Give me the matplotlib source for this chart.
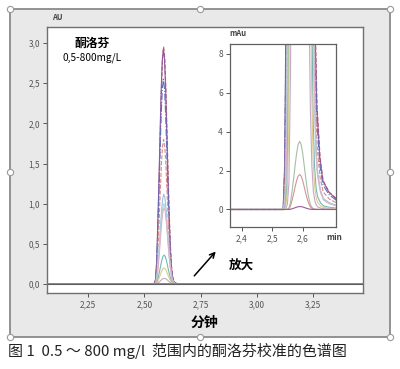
import matplotlib
matplotlib.use("Agg")
import matplotlib.pyplot as plt
import numpy as np
from matplotlib.patches import Rectangle
from matplotlib.lines import Line2D

plt.rcParams['font.family'] = ['Noto Sans CJK SC', 'DejaVu Sans']

# peak heights (AU) and retention times (min) of the calibration runs
heights_au = [2.95, 2.93, 2.55, 1.80, 1.12, 1.00, 0.95, 0.36, 0.20, 0.07, 0.0035, 0.0018, 0.00015]
retention = [2.586, 2.585, 2.585, 2.586, 2.587, 2.587, 2.588, 2.588, 2.588, 2.589, 2.589, 2.589, 2.590]

# normalised peak profile (offset from apex in min, relative height)
prof_offset = [-0.050, -0.045, -0.040, -0.035, -0.030, -0.025, -0.020,
               -0.015, -0.010, -0.005, 0.000, 0.005, 0.010, 0.015, 0.020, 0.025, 0.030,
               0.035, 0.040, 0.045, 0.050, 0.055, 0.060, 0.070, 0.080, 0.100,
               0.125, 0.150, 0.200, 0.300, 0.500]
prof_rel = [0.0, 0.0008, 0.004, 0.02, 0.10, 0.26, 0.44,
            0.64, 0.823, 0.952, 1.000, 0.952, 0.823, 0.644, 0.458, 0.295, 0.165,
            0.075, 0.032, 0.013, 0.006, 0.003, 0.0018, 0.0009, 0.0005, 0.0003,
            0.00018, 0.0001, 0.00004, 0.00001, 0.0]

main_xticks = [2.25, 2.50, 2.75, 3.00, 3.25]
main_xlabels = ['2,25', '2,50', '2,75', '3,00', '3,25']
main_yticks = [0.0, 0.5, 1.0, 1.5, 2.0, 2.5, 3.0]
main_ylabels = ['0,0', '0,5', '1,0', '1,5', '2,0', '2,5', '3,0']
ins_xticks = [2.4, 2.5, 2.6]
ins_xlabels = ['2,4', '2,5', '2,6']
ins_yticks = [0, 2, 4, 6, 8]

colors = ['#c8505a', '#8e5aa0', '#5b6fb8', '#d88a8a', '#98c4dc', '#a9d9e6', '#e3b3c6',
          '#78b8b4', '#d9cf8c', '#c6a8c8', '#a6bfa0', '#d4939c', '#9a5a9a']
styles = ['--', '-', '-.', '--', '-', '-', '-', '-', '-', '-', '-', '-', '-']

fig = plt.figure(figsize=(4.0, 3.69), dpi=100)
fig.patch.set_facecolor('white')

W, H = 400.0, 369.0
def fx(px):
    return px / W
def fy(py):
    return 1 - py / H

# grey frame of the embedded picture
fig.add_artist(Rectangle((fx(10), fy(337)), fx(390) - fx(10), fy(9) - fy(337),
                         transform=fig.transFigure, facecolor='#e9e9e9',
                         edgecolor='#8a8a8a', lw=1.3, zorder=0))
hx = [10, 200, 390, 10, 390, 10, 200, 390]
hy = [9, 9, 9, 172, 172, 337, 337, 337]
fig.add_artist(Line2D([fx(v) for v in hx], [fy(v) for v in hy], transform=fig.transFigure,
                      ls='none', marker='o', ms=4.5, mfc='white', mec='#9a9a9a', mew=0.8,
                      zorder=5))

def traces(ax, scale):
    for h, rt, c, s in zip(heights_au, retention, colors, styles):
        t = [2.0] + [rt + o for o in prof_offset] + [3.6]
        y = [0.0] + [h * r * scale for r in prof_rel] + [0.0]
        ax.plot(t, y, color=c, ls=s, lw=0.8)

# main chromatogram
ax = fig.add_axes([fx(47), fy(293), fx(363) - fx(47), fy(27) - fy(293)])
ax.set_facecolor('white')
traces(ax, 1.0)
ax.axhline(0, color='#606060', lw=0.8)
ax.set_xlim(2.067, 3.473)
ax.set_ylim(-0.1125, 3.2)
ax.set_xticks(main_xticks)
ax.set_xticklabels(main_xlabels)
ax.set_yticks(main_yticks)
ax.set_yticklabels(main_ylabels)
ax.tick_params(labelsize=6, colors='#555555', length=3, width=0.7, pad=2)
for sp in ax.spines.values():
    sp.set_color('#707070')
    sp.set_linewidth(1.0)
fig.text(fx(52), fy(18), 'AU', fontsize=5.5, fontweight='bold', color='#444444',
         ha='left', va='center')
fig.text(fx(92), fy(43), '酮洛芬', fontsize=8.5, fontweight='bold', ha='center', va='center')
fig.text(fx(92), fy(58), '0,5-800mg/L', fontsize=7.3, ha='center', va='center')
fig.text(fx(204), fy(323), '分钟', fontsize=10, fontweight='bold', ha='center', va='center')
fig.text(fx(241), fy(265), '放大', fontsize=9, fontweight='bold', ha='center', va='center')
ax.annotate('', xy=(2.826, 0.43), xytext=(2.714, 0.075),
            arrowprops=dict(arrowstyle='->', color='black', lw=1.1, mutation_scale=9))

# zoomed inset in mAU
ai = fig.add_axes([fx(230), fy(227), fx(336) - fx(230), fy(44) - fy(227)])
ai.set_facecolor('white')
traces(ai, 1000.0)
ai.set_xlim(2.361, 2.708)
ai.set_ylim(-0.9, 8.5)
ai.set_xticks(ins_xticks)
ai.set_xticklabels(ins_xlabels)
ai.set_yticks(ins_yticks)
ai.tick_params(labelsize=6, colors='#555555', length=3, width=0.7, pad=2)
for sp in ai.spines.values():
    sp.set_color('#606060')
    sp.set_linewidth(0.9)
fig.text(fx(238), fy(34), 'mAu', fontsize=5.5, fontweight='bold', color='#444444',
         ha='center', va='center')
fig.text(fx(334), fy(238), 'min', fontsize=6, fontweight='bold', color='#444444',
         ha='center', va='center')

fig.text(fx(8), fy(351), '图 1  0.5 ～ 800 mg/l  范围内的酮洛芬校准的色谱图', fontsize=10.8,
         ha='left', va='center', color='#222222')

fig.savefig('out.png', dpi=100)
